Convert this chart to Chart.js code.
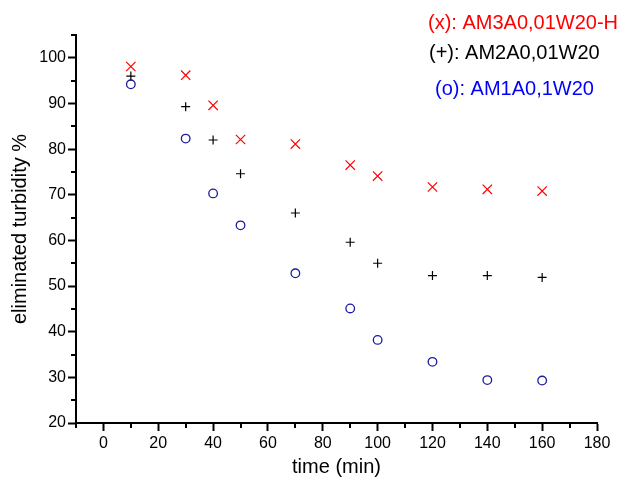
<!DOCTYPE html>
<html lang="en">
<head>
  <meta charset="UTF-8">
  <title>Eliminated turbidity</title>
  <script src="https://cdn.jsdelivr.net/npm/chart.js"></script>
  <style>
    html, body {
      margin: 0;
      padding: 0;
      background: white;
    }
    #wrap {
      width: 624px;
      height: 480px;
    }
  </style>
</head>
<body>

<div id="wrap"><canvas id="turbChart" width="624" height="480"></canvas></div>

<script>
  // time in minutes
  const times = [10, 30, 40, 50, 70, 90, 100, 120, 140, 160];

  const labelAM3 = "AM3A0,01W20-H";
  const labelAM2 = "AM2A0,01W20";
  const labelAM1 = "AM1A0,1W20";

  const am3Values = [98.1, 96.2, 89.6, 82.1, 81.1, 76.5, 74.1, 71.7, 71.2, 70.8];
  const am2Values = [96.0, 89.3, 82.0, 74.6, 66.0, 59.6, 55.0, 52.3, 52.3, 51.9];
  const am1Values = [94.2, 82.3, 70.3, 63.3, 52.8, 45.1, 38.2, 33.4, 29.4, 29.3];

  const xTicks = [0, 20, 40, 60, 80, 100, 120, 140, 160, 180];
  const xMinorTicks = [-10, 10, 30, 50, 70, 90, 110, 130, 150, 170];
  const yTicks = [20, 30, 40, 50, 60, 70, 80, 90, 100];
  const yMinorTicks = [25, 35, 45, 55, 65, 75, 85, 95, 105];

  const FONT = "'Liberation Sans', Arial, sans-serif";

  function toPoints(values) {
    return times.map((t, i) => ({ x: t, y: values[i] }));
  }

  // short ticks between the labelled ones
  const minorTicks = {
    id: 'minorTicks',
    afterDraw(chart) {
      const ctx = chart.ctx;
      const xs = chart.scales.x;
      const ys = chart.scales.y;
      const area = chart.chartArea;
      ctx.save();
      ctx.strokeStyle = '#000';
      ctx.lineWidth = 2;
      ctx.beginPath();
      xMinorTicks.forEach(v => {
        const px = Math.round(xs.getPixelForValue(v));
        ctx.moveTo(px, area.bottom);
        ctx.lineTo(px, area.bottom + 5);
      });
      yMinorTicks.forEach(v => {
        const py = Math.round(ys.getPixelForValue(v));
        ctx.moveTo(area.left - 5, py);
        ctx.lineTo(area.left, py);
      });
      ctx.stroke();
      ctx.restore();
    }
  };

  // coloured text legend, top right
  const textLegend = {
    id: 'textLegend',
    afterDraw(chart) {
      const ctx = chart.ctx;
      const marks = ['(x): ', '(+): ', '(o): '];
      const lefts = [428, 429, 435];
      const bases = [29, 59, 95];
      const colors = ['#ff0000', '#000000', '#0000ff'];
      ctx.save();
      ctx.font = '20px ' + FONT;
      ctx.textBaseline = 'alphabetic';
      ctx.textAlign = 'left';
      chart.data.datasets.forEach((ds, i) => {
        ctx.fillStyle = colors[i];
        ctx.fillText(marks[i] + ds.label, lefts[i], bases[i]);
      });
      ctx.restore();
    }
  };

  const ctx = document.getElementById('turbChart').getContext('2d');
  const chart = new Chart(ctx, {
    type: 'scatter',
    data: {
      datasets: [
        {
          label: labelAM3,
          data: toPoints(am3Values),
          pointStyle: 'crossRot',
          pointRadius: 6.6,
          pointBorderWidth: 1.2,
          borderColor: '#ff0000',
          backgroundColor: '#ff0000'
        },
        {
          label: labelAM2,
          data: toPoints(am2Values),
          pointStyle: 'cross',
          pointRadius: 4.5,
          pointBorderWidth: 1.2,
          borderColor: '#000000',
          backgroundColor: '#000000'
        },
        {
          label: labelAM1,
          data: toPoints(am1Values),
          pointStyle: 'circle',
          pointRadius: 4.3,
          pointBorderWidth: 1.3,
          borderColor: '#1c1c9c',
          backgroundColor: 'rgba(0,0,0,0)'
        }
      ]
    },
    options: {
      responsive: false,
      animation: false,
      layout: {
        padding: { left: 0, right: 27, top: 35, bottom: 0 }
      },
      plugins: {
        legend: { display: false },
        tooltip: { enabled: false }
      },
      scales: {
        x: {
          type: 'linear',
          min: -10,
          max: 180,
          afterBuildTicks: scale => {
            scale.ticks = xTicks.map(v => ({ value: v }));
          },
          afterFit: scale => {
            scale.height = 57;
          },
          grid: {
            drawOnChartArea: false,
            drawTicks: true,
            tickLength: 8,
            tickWidth: 2,
            tickColor: '#000'
          },
          border: { display: true, color: '#000', width: 2 },
          ticks: {
            color: '#000',
            font: { family: FONT, size: 16 },
            padding: 3,
            maxRotation: 0
          },
          title: {
            display: true,
            text: 'time (min)',
            color: '#000',
            font: { family: FONT, size: 20 },
            padding: { top: 0, bottom: 1 }
          }
        },
        y: {
          type: 'linear',
          min: 20,
          max: 105,
          afterBuildTicks: scale => {
            scale.ticks = yTicks.map(v => ({ value: v }));
          },
          afterFit: scale => {
            scale.width = 76;
          },
          grid: {
            drawOnChartArea: false,
            drawTicks: true,
            tickLength: 8,
            tickWidth: 2,
            tickColor: '#000'
          },
          border: { display: true, color: '#000', width: 2 },
          ticks: {
            color: '#000',
            font: { family: FONT, size: 16 },
            padding: 2
          },
          title: {
            display: true,
            text: 'eliminated turbidity %',
            color: '#000',
            font: { family: FONT, size: 20 },
            padding: { top: 8, bottom: 0 }
          }
        }
      }
    },
    plugins: [minorTicks, textLegend]
  });
</script>

</body>
</html>
